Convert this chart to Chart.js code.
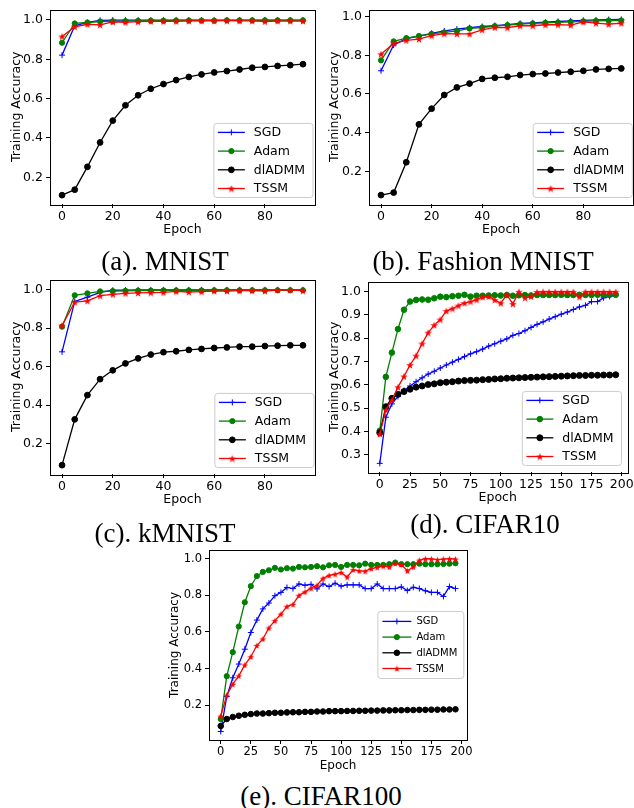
<!DOCTYPE html>
<html>
<head>
<meta charset="utf-8">
<script src="https://cdn.jsdelivr.net/npm/chart.js@4.4.0/dist/chart.umd.min.js"></script>
<style>
html, body { margin: 0; padding: 0; background: #fff; width: 634px; height: 808px; overflow: hidden; position: relative; }
.panel { position: absolute; }
.cap { position: absolute; font-family: "Liberation Serif", "Times New Roman", serif; font-size: 27px; color: #000; white-space: nowrap; transform: translate(-50%, -50%); line-height: 1; }
</style>
</head>
<body>
<div class="panel" id="pa"><canvas id="ca"></canvas></div>
<div class="panel" id="pb"><canvas id="cb"></canvas></div>
<div class="panel" id="pc"><canvas id="cc"></canvas></div>
<div class="panel" id="pd"><canvas id="cd"></canvas></div>
<div class="panel" id="pe"><canvas id="ce"></canvas></div>
<div class="cap" style="left:165px;top:261px">(a). MNIST</div>
<div class="cap" style="left:483px;top:261px">(b). Fashion MNIST</div>
<div class="cap" style="left:165px;top:533px">(c). kMNIST</div>
<div class="cap" style="left:485px;top:524px">(d). CIFAR10</div>
<div class="cap" style="left:321px;top:796px">(e). CIFAR100</div>
<script>
// epochs / ticks
const epochs100 = [0, 5, 10, 15, 20, 25, 30, 35, 40, 45, 50, 55, 60, 65, 70, 75, 80, 85, 90, 95]
const epochs200 = [0, 5, 10, 15, 20, 25, 30, 35, 40, 45, 50, 55, 60, 65, 70, 75, 80, 85, 90, 95,
    100, 105, 110, 115, 120, 125, 130, 135, 140, 145, 150, 155, 160, 165, 170, 175, 180, 185, 190, 195]
const epochTicks100 = [0, 20, 40, 60, 80]
const epochTicks200 = [0, 25, 50, 75, 100, 125, 150, 175, 200]
const accTicks = [0.2, 0.4, 0.6, 0.8, 1.0]
const accTicksD = [0.3, 0.4, 0.5, 0.6, 0.7, 0.8, 0.9, 1.0]
const methods = ['SGD', 'Adam', 'dlADMM', 'TSSM']

// (a) MNIST
const sgdA = [0.821, 0.970, 0.987, 0.998, 0.999, 0.999, 0.999, 0.999, 0.999, 0.999, 0.999, 0.999, 0.999, 0.999, 0.999, 0.999, 0.999, 0.999, 0.999, 0.999]
const adamA = [0.884, 0.982, 0.987, 0.992, 0.993, 0.994, 0.995, 0.996, 0.996, 0.997, 0.997, 0.997, 0.996, 0.998, 0.998, 0.998, 0.998, 0.998, 0.998, 0.998]
const admmA = [0.109, 0.137, 0.253, 0.377, 0.488, 0.566, 0.617, 0.650, 0.674, 0.694, 0.710, 0.723, 0.733, 0.740, 0.748, 0.757, 0.761, 0.766, 0.770, 0.775]
const tssmA = [0.916, 0.965, 0.978, 0.975, 0.990, 0.988, 0.991, 0.993, 0.993, 0.993, 0.995, 0.995, 0.996, 0.996, 0.995, 0.995, 0.992, 0.994, 0.994, 0.994]

// (b) Fashion MNIST
const sgdB = [0.720, 0.853, 0.887, 0.899, 0.914, 0.926, 0.936, 0.943, 0.949, 0.954, 0.959, 0.965, 0.968, 0.971, 0.975, 0.978, 0.981, 0.983, 0.985, 0.986]
const adamB = [0.774, 0.872, 0.889, 0.900, 0.911, 0.919, 0.926, 0.939, 0.944, 0.951, 0.956, 0.961, 0.965, 0.968, 0.970, 0.973, 0.976, 0.978, 0.980, 0.980]
const admmB = [0.077, 0.090, 0.247, 0.443, 0.524, 0.595, 0.634, 0.654, 0.678, 0.684, 0.689, 0.698, 0.703, 0.706, 0.711, 0.715, 0.720, 0.727, 0.730, 0.732]
const tssmB = [0.806, 0.862, 0.877, 0.884, 0.902, 0.912, 0.911, 0.911, 0.932, 0.944, 0.943, 0.953, 0.953, 0.958, 0.959, 0.956, 0.973, 0.966, 0.961, 0.966]

// (c) kMNIST
const sgdC = [0.677, 0.939, 0.961, 0.986, 0.997, 0.998, 0.999, 0.999, 0.999, 0.999, 0.999, 0.999, 0.999, 0.999, 0.999, 0.999, 0.999, 0.999, 0.999, 0.999]
const adamC = [0.808, 0.971, 0.981, 0.991, 0.993, 0.994, 0.995, 0.995, 0.996, 0.996, 0.996, 0.996, 0.997, 0.997, 0.997, 0.997, 0.997, 0.997, 0.997, 0.997]
const admmC = [0.088, 0.326, 0.452, 0.535, 0.581, 0.617, 0.643, 0.663, 0.675, 0.680, 0.687, 0.692, 0.697, 0.700, 0.704, 0.704, 0.707, 0.709, 0.711, 0.711]
const tssmC = [0.814, 0.935, 0.942, 0.969, 0.976, 0.981, 0.983, 0.985, 0.986, 0.991, 0.988, 0.990, 0.993, 0.993, 0.995, 0.995, 0.993, 0.998, 0.998, 0.995]

// (d) CIFAR10
const sgdD = [0.263, 0.461, 0.518, 0.550, 0.576, 0.595, 0.613, 0.630, 0.646, 0.658, 0.672, 0.685, 0.697, 0.709, 0.721, 0.733, 0.742, 0.753, 0.766, 0.776,
    0.787, 0.797, 0.812, 0.820, 0.832, 0.846, 0.859, 0.870, 0.882, 0.892, 0.903, 0.912, 0.923, 0.934, 0.941, 0.957, 0.957, 0.973, 0.979, 0.989]
const adamD = [0.403, 0.634, 0.738, 0.839, 0.922, 0.957, 0.964, 0.966, 0.965, 0.971, 0.978, 0.976, 0.980, 0.982, 0.986, 0.978, 0.982, 0.982, 0.983, 0.984,
    0.983, 0.985, 0.982, 0.984, 0.985, 0.983, 0.985, 0.985, 0.985, 0.985, 0.986, 0.985, 0.985, 0.986, 0.985, 0.985, 0.986, 0.985, 0.986, 0.986]
const admmD = [0.394, 0.506, 0.542, 0.559, 0.571, 0.581, 0.590, 0.595, 0.601, 0.604, 0.609, 0.611, 0.613, 0.616, 0.618, 0.619, 0.620, 0.622, 0.623, 0.625,
    0.626, 0.628, 0.629, 0.630, 0.631, 0.632, 0.633, 0.634, 0.635, 0.636, 0.637, 0.638, 0.639, 0.640, 0.640, 0.641, 0.641, 0.642, 0.642, 0.643]
const tssmD = [0.389, 0.492, 0.534, 0.590, 0.636, 0.685, 0.725, 0.777, 0.824, 0.856, 0.880, 0.917, 0.927, 0.940, 0.951, 0.957, 0.965, 0.976, 0.979, 0.964,
    0.950, 0.987, 0.947, 0.999, 0.973, 0.979, 0.998, 0.999, 0.999, 0.999, 0.999, 0.999, 0.999, 0.978, 0.999, 0.999, 0.999, 0.999, 0.999, 0.999]

// (e) CIFAR100
const sgdE = [0.057, 0.248, 0.350, 0.425, 0.506, 0.597, 0.665, 0.726, 0.758, 0.798, 0.816, 0.843, 0.837, 0.862, 0.855, 0.860, 0.835, 0.862, 0.848, 0.866,
    0.850, 0.857, 0.857, 0.857, 0.837, 0.837, 0.862, 0.837, 0.837, 0.837, 0.846, 0.826, 0.844, 0.837, 0.825, 0.816, 0.816, 0.794, 0.848, 0.837]
const adamE = [0.125, 0.359, 0.490, 0.630, 0.762, 0.850, 0.905, 0.928, 0.937, 0.950, 0.941, 0.948, 0.946, 0.955, 0.953, 0.955, 0.959, 0.953, 0.964, 0.966,
    0.955, 0.966, 0.966, 0.964, 0.973, 0.966, 0.966, 0.966, 0.970, 0.979, 0.970, 0.970, 0.970, 0.973, 0.970, 0.970, 0.970, 0.971, 0.973, 0.975]
const admmE = [0.087, 0.125, 0.136, 0.143, 0.148, 0.152, 0.155, 0.155, 0.157, 0.159, 0.159, 0.161, 0.162, 0.162, 0.164, 0.164, 0.166, 0.166, 0.168, 0.168,
    0.168, 0.169, 0.169, 0.170, 0.170, 0.171, 0.171, 0.172, 0.172, 0.173, 0.173, 0.174, 0.174, 0.175, 0.175, 0.176, 0.176, 0.177, 0.177, 0.178]
const tssmE = [0.141, 0.255, 0.315, 0.361, 0.420, 0.465, 0.526, 0.562, 0.622, 0.662, 0.698, 0.740, 0.751, 0.800, 0.819, 0.839, 0.855, 0.893, 0.909, 0.916,
    0.925, 0.900, 0.940, 0.934, 0.932, 0.946, 0.953, 0.960, 0.955, 0.975, 0.968, 0.934, 0.955, 0.992, 1.000, 0.999, 0.995, 0.998, 1.000, 0.998]

const colors = ['#0000ff', '#008000', '#000000', '#ff0000']

Chart.defaults.font.family = '"DejaVu Sans", sans-serif'
Chart.defaults.color = '#000'

function starImage(size, color) {
    const c = document.createElement('canvas')
    c.width = c.height = size
    const g = c.getContext('2d')
    g.fillStyle = color
    g.beginPath()
    for (let i = 0; i < 10; i++) {
        const r = i % 2 ? size * 0.2 : size / 2
        const a = -Math.PI / 2 + i * Math.PI / 5
        g.lineTo(size / 2 + r * Math.cos(a), size / 2 + 0.5 + r * Math.sin(a))
    }
    g.closePath()
    g.fill()
    return c
}

// matplotlib style full box around the axes
const framePlugin = {
    id: 'frame',
    afterDatasetsDraw(chart) {
        const a = chart.chartArea, ctx = chart.ctx
        ctx.save()
        ctx.strokeStyle = '#000'
        ctx.lineWidth = 1
        ctx.strokeRect(Math.round(a.left) + 0.5, Math.round(a.top) + 0.5,
            Math.round(a.right - a.left), Math.round(a.bottom - a.top))
        ctx.restore()
    }
}

// legend box drawn inside the axes
const boxLegend = {
    id: 'boxLegend',
    afterDraw(chart, args, o) {
        const ctx = chart.ctx, a = chart.chartArea
        ctx.save()
        ctx.font = o.size + 'px "DejaVu Sans"'
        let tw = 0
        chart.data.datasets.forEach(d => { tw = Math.max(tw, ctx.measureText(d.label).width) })
        const w = o.padL + o.handle + o.gap + tw + o.padR
        const h = o.padY * 2 + o.rowH * 3
        const x = a.right - o.offX - w
        const y = o.center ? (a.top + a.bottom) / 2 - h / 2 : a.bottom - o.offY - h
        ctx.beginPath()
        ctx.roundRect(x, y, w, h, 3)
        ctx.fillStyle = 'rgba(255,255,255,0.85)'
        ctx.fill()
        ctx.strokeStyle = '#cccccc'
        ctx.lineWidth = 1
        ctx.stroke()
        chart.data.datasets.forEach((d, i) => {
            const ry = y + o.padY + i * o.rowH
            const lx = x + o.padL
            ctx.strokeStyle = d.borderColor
            ctx.lineWidth = 1.3
            ctx.beginPath()
            ctx.moveTo(lx, ry)
            ctx.lineTo(lx + o.handle, ry)
            ctx.stroke()
            ctx.fillStyle = d.borderColor
            ctx.lineWidth = 1
            Chart.helpers.drawPoint(ctx, { pointStyle: d.pointStyle, rotation: 0, radius: d.pointRadius, borderWidth: 1 }, lx + o.handle / 2, ry)
            ctx.fillStyle = '#000'
            ctx.textBaseline = 'middle'
            ctx.textAlign = 'left'
            ctx.fillText(d.label, lx + o.handle + o.gap, ry + 0.5)
        })
        ctx.restore()
    }
}

function makePanel(p) {
    const box = p.box // [left, top, right, bottom] of the axes
    const padTop = 6, padRight = 16
    const left = box[0] - p.yw
    const top = box[1] - padTop
    const width = Math.ceil(box[2] - box[0] + p.yw + padRight)
    const height = Math.ceil(box[3] - box[1] + padTop + p.xh)
    const div = document.getElementById(p.div)
    div.style.left = left + 'px'
    div.style.top = top + 'px'
    const cv = document.getElementById(p.canvas)
    cv.width = width
    cv.height = height
    cv.style.width = width + 'px'
    cv.style.height = height + 'px'

    const datasets = p.series.map((s, i) => ({
        label: methods[i],
        data: p.epochs.map((e, j) => ({ x: e, y: s[j] })),
        borderColor: colors[i],
        backgroundColor: colors[i],
        pointBackgroundColor: colors[i],
        pointBorderColor: colors[i],
        borderWidth: 1.3,
        pointBorderWidth: 1,
        pointStyle: i === 0 ? 'cross' : (i === 3 ? starImage(p.star, colors[3]) : 'circle'),
        pointRadius: i === 0 ? p.cross : (i === 2 ? p.dot2 : p.dot),
        tension: 0,
        order: 3 - i
    }))

    new Chart(cv, {
        type: 'line',
        data: { datasets: datasets },
        options: {
            responsive: false,
            animation: false,
            events: [],
            layout: { padding: { top: padTop, right: width - (box[2] - box[0]) - p.yw, left: 0, bottom: 0 } },
            plugins: {
                legend: { display: false },
                tooltip: { enabled: false },
                boxLegend: p.legend
            },
            scales: {
                x: {
                    type: 'linear',
                    min: p.xr[0], max: p.xr[1],
                    afterBuildTicks: s => { s.ticks = p.xt.map(v => ({ value: v })) },
                    afterFit: s => { s.height = p.xh },
                    border: { display: false },
                    grid: { drawOnChartArea: false, drawTicks: true, tickLength: 4, color: '#000' },
                    ticks: { autoSkip: false, maxRotation: 0, padding: 1, font: { size: p.tick }, callback: v => String(v) },
                    title: { display: true, text: 'Epoch', font: { size: p.title }, padding: { top: 0, bottom: p.xtPad } }
                },
                y: {
                    min: p.yr[0], max: p.yr[1],
                    afterBuildTicks: s => { s.ticks = p.yt.map(v => ({ value: v })) },
                    afterFit: s => { s.width = p.yw },
                    border: { display: false },
                    grid: { drawOnChartArea: false, drawTicks: true, tickLength: 4, color: '#000' },
                    ticks: { autoSkip: false, padding: 3, font: { size: p.tick }, callback: v => v.toFixed(1) },
                    title: { display: true, text: 'Training Accuracy', font: { size: p.title }, padding: { top: p.ytPad, bottom: 0 } }
                }
            }
        },
        plugins: [framePlugin, boxLegend]
    })
}

const bigLegend = { size: 12.5, rowH: 18.7, padY: 9, padL: 4, handle: 27, gap: 9, padR: 8, offX: 2, offY: 6.5, center: false }

makePanel({ div: 'pa', canvas: 'ca', box: [50, 5, 315, 204], yw: 50, xh: 38, xr: [-4.75, 99.75], yr: [0.064, 1.053],
    xt: epochTicks100, yt: accTicks, epochs: epochs100, series: [sgdA, adamA, admmA, tssmA],
    tick: 12.5, title: 12.5, xtPad: 4.5, ytPad: 9, dot: 2.6, dot2: 2.9, cross: 3, star: 8, legend: bigLegend })
makePanel({ div: 'pb', canvas: 'cb', box: [368.7, 5, 633, 204], yw: 51, xh: 38, xr: [-4.75, 99.75], yr: [0.031, 1.037],
    xt: epochTicks100, yt: accTicks, epochs: epochs100, series: [sgdB, adamB, admmB, tssmB],
    tick: 12.5, title: 12.5, xtPad: 4.5, ytPad: 9, dot: 2.6, dot2: 2.9, cross: 3, star: 8, legend: Object.assign({}, bigLegend, { offX: 1 }) })
makePanel({ div: 'pc', canvas: 'cc', box: [50, 275, 315, 473.3], yw: 50, xh: 38, xr: [-4.75, 99.75], yr: [0.042, 1.053],
    xt: epochTicks100, yt: accTicks, epochs: epochs100, series: [sgdC, adamC, admmC, tssmC],
    tick: 12.5, title: 12.5, xtPad: 4.5, ytPad: 9, dot: 2.6, dot2: 2.9, cross: 3, star: 8, legend: Object.assign({}, bigLegend, { offX: 1 }) })
makePanel({ div: 'pd', canvas: 'cd', box: [367.5, 277, 627, 471.7], yw: 50, xh: 38, xr: [-9.75, 204.75], yr: [0.226, 1.043],
    xt: epochTicks200, yt: accTicksD, epochs: epochs200, series: [sgdD, adamD, admmD, tssmD],
    tick: 12.5, title: 12.5, xtPad: 4.5, ytPad: 9.5, dot: 2.8, dot2: 3, cross: 3, star: 8, legend: Object.assign({}, bigLegend, { offX: 6 }) })
makePanel({ div: 'pe', canvas: 'ce', box: [208.5, 545.5, 466.7, 739], yw: 45, xh: 34, xr: [-9.75, 204.75], yr: [0.0105, 1.048],
    xt: epochTicks200, yt: accTicks, epochs: epochs200, series: [sgdE, adamE, admmE, tssmE],
    tick: 11.5, title: 12, xtPad: 0.5, ytPad: 3.3, dot: 2.6, dot2: 2.8, cross: 3, star: 7,
    legend: { size: 10, rowH: 15.7, padY: 10, padL: 4.5, handle: 29, gap: 5, padR: 6.5, offX: 3.4, offY: 0, center: true } })
</script>
</body>
</html>
